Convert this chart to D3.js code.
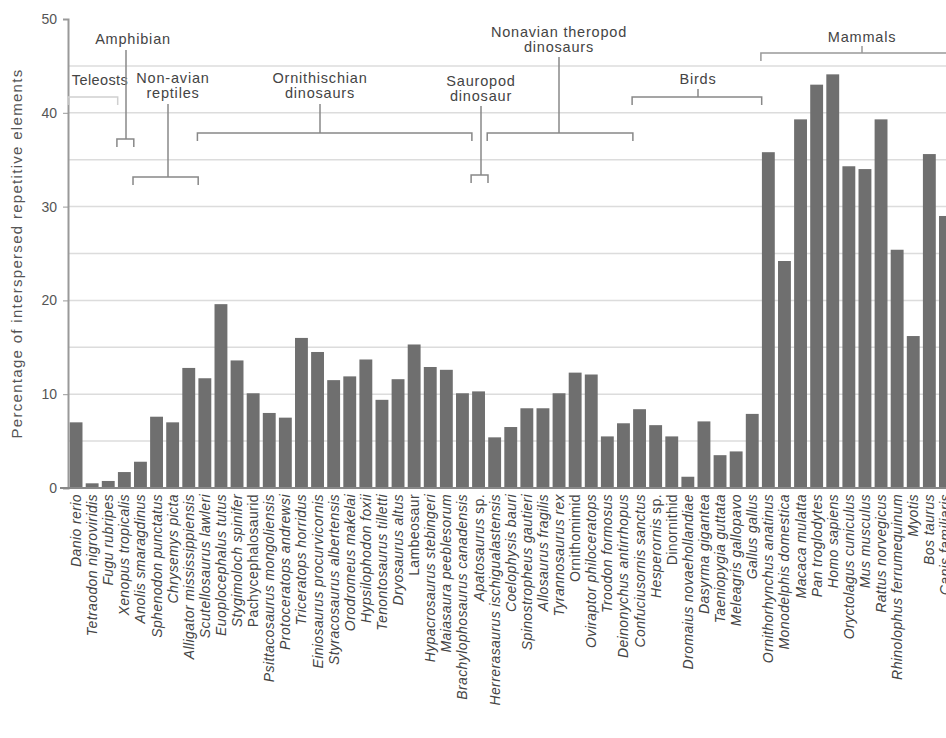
<!DOCTYPE html>
<html>
<head>
<meta charset="utf-8">
<script src="https://d3js.org/d3.v7.min.js"></script>
<style>
  body { margin: 0; background: #fff; }
  svg text { font-family: 'Liberation Sans', Arial, sans-serif; }
</style>
</head>
<body>
<svg id="chart" width="946" height="738"></svg>
<script>
// species along the x axis, left to right
var species = [
  "Danio rerio", "Tetraodon nigroviridis", "Fugu rubripes", "Xenopus tropicalis",
  "Anolis smaragdinus", "Sphenodon punctatus", "Chrysemys picta", "Alligator mississippiensis",
  "Scutellosaurus lawleri", "Euoplocephalus tutus", "Stygimoloch spinifer", "Pachycephalosaurid",
  "Psittacosaurus mongoliensis", "Protoceratops andrewsi", "Triceratops horridus",
  "Einiosaurus procurvicornis", "Styracosaurus albertensis", "Orodromeus makelai",
  "Hypsilophodon foxii", "Tenontosaurus tilletti", "Dryosaurus altus", "Lambeosaur",
  "Hypacrosaurus stebingeri", "Maiasaura peeblesorum", "Brachylophosaurus canadensis",
  "Apatosaurus sp.", "Herrerasaurus ischigualastensis", "Coelophysis bauri",
  "Spinostropheus gautieri", "Allosaurus fragilis", "Tyrannosaurus rex", "Ornithomimid",
  "Oviraptor philoceratops", "Troodon formosus", "Deinonychus antirrhopus",
  "Confuciusornis sanctus", "Hesperornis sp.", "Dinornithid", "Dromaius novaehollandiae",
  "Dasyrma gigantea", "Taeniopygia guttata", "Meleagris gallopavo", "Gallus gallus",
  "Ornithorhynchus anatinus", "Monodelphis domestica", "Macaca mulatta", "Pan troglodytes",
  "Homo sapiens", "Oryctolagus cuniculus", "Mus musculus", "Rattus norvegicus",
  "Rhinolophus ferrumequinum", "Myotis", "Bos taurus", "Canis familiaris"
];

// percentage of interspersed repetitive elements
var repeatPct = [
  7.0, 0.5, 0.75, 1.7, 2.8, 7.6, 7.0, 12.8, 11.7, 19.6, 13.6, 10.1, 8.0, 7.5, 16.0,
  14.5, 11.5, 11.9, 13.7, 9.4, 11.6, 15.3, 12.9, 12.6, 10.1, 10.3, 5.4, 6.5, 8.5, 8.5,
  10.1, 12.3, 12.1, 5.5, 6.9, 8.4, 6.7, 5.5, 1.2, 7.1, 3.5, 3.9, 7.9, 35.8, 24.2,
  39.3, 43.0, 44.1, 34.3, 34.0, 39.3, 25.4, 16.2, 35.6, 29.0
];

// names that are not set in italics
var plainNames = ["Pachycephalosaurid", "Lambeosaur", "Ornithomimid", "Dinornithid"];

var yTicks = [0, 10, 20, 30, 40, 50];
var gridValues = [5, 10, 15, 20, 25, 30, 35, 40, 45];

// clade groups: first and last species, label lines
var groupNames = ["Teleosts", "Amphibian", "Non-avian reptiles", "Ornithischian dinosaurs",
  "Sauropod dinosaur", "Nonavian theropod dinosaurs", "Birds", "Mammals"];
var groupFirst = ["Danio rerio", "Xenopus tropicalis", "Anolis smaragdinus", "Scutellosaurus lawleri",
  "Apatosaurus sp.", "Herrerasaurus ischigualastensis", "Confuciusornis sanctus", "Ornithorhynchus anatinus"];
var groupLast = ["Fugu rubripes", "Xenopus tropicalis", "Alligator mississippiensis", "Brachylophosaurus canadensis",
  "Apatosaurus sp.", "Deinonychus antirrhopus", "Gallus gallus", "Canis familiaris"];
var groupLines = [["Teleosts"], ["Amphibian"], ["Non-avian", "reptiles"], ["Ornithischian", "dinosaurs"],
  ["Sauropod", "dinosaur"], ["Nonavian theropod", "dinosaurs"], ["Birds"], ["Mammals"]];

var svg = d3.select('#chart');
var x = d3.scaleBand().domain(species).range([68, 68 + 55 * 16.1]).paddingInner(0.2).paddingOuter(0.1);
var y = d3.scaleLinear().domain([0, 50]).range([488, 19]);

// grid
svg.append('g').selectAll('line').data(gridValues).join('line')
  .attr('x1', 68).attr('x2', 946)
  .attr('y1', function (d) { return y(d); }).attr('y2', function (d) { return y(d); })
  .attr('stroke', '#dcdcdc').attr('stroke-width', 1.5);

// bars
svg.append('g').selectAll('rect').data(species).join('rect')
  .attr('x', function (d) { return x(d); })
  .attr('y', function (d, i) { return y(repeatPct[i]); })
  .attr('width', x.bandwidth())
  .attr('height', function (d, i) { return y(0) - y(repeatPct[i]); })
  .attr('fill', '#6f6f6f');

// y axis
var yAxis = d3.axisLeft(y).tickValues(yTicks).tickSize(5).tickPadding(6);
var gy = svg.append('g').attr('transform', 'translate(68,0)').call(yAxis);
gy.select('.domain').attr('stroke', '#999').attr('stroke-width', 2);
gy.selectAll('.tick line').attr('stroke', '#999');
gy.selectAll('.tick text').attr('fill', '#555').style('font-size', '14px');

// baseline
svg.append('line').attr('x1', 60).attr('x2', 946).attr('y1', y(0)).attr('y2', y(0))
  .attr('stroke', '#888').attr('stroke-width', 2);

svg.append('text')
  .attr('transform', 'translate(22,' + ((y(0) + y(50)) / 2) + ') rotate(-90)')
  .attr('text-anchor', 'middle')
  .attr('fill', '#555')
  .style('font-size', '15px')
  .style('letter-spacing', '1.3px')
  .text('Percentage of interspersed repetitive elements');

// x labels
var xl = svg.append('g').selectAll('text').data(species).join('text')
  .attr('transform', function (d) {
    return 'translate(' + (x(d) + x.bandwidth() / 2 + 5) + ',494) rotate(-90)';
  })
  .attr('text-anchor', 'end')
  .attr('fill', '#444')
  .style('font-size', '14px')
  .style('letter-spacing', '0.4px');
xl.each(function (d) {
  var t = d3.select(this);
  if (plainNames.indexOf(d) >= 0) {
    t.text(d);
  } else if (d.slice(-4) === ' sp.') {
    t.append('tspan').style('font-style', 'italic').text(d.slice(0, -4));
    t.append('tspan').text(' sp.');
  } else {
    t.style('font-style', 'italic').text(d);
  }
});

// group brackets: bracket y, label centre x, stem x, label baseline y, stem top y
var bracketY = [97, 139, 177, 133, 175, 133, 97, 53];
var labelY = [85, 44, 83, 83, 86, 37, 84, 42];
var stemTop = [97, 50, 104, 104, 106, 57, 89, 46];
var labelX = [100, 133, 173, 320, 481, 559, 698, 862];
var stemX = [94, 126, 168, 320, 481, 559, 698, 862];
var bracketColor = ['#d0d0d0', '#888', '#888', '#888', '#888', '#888', '#888', '#999'];

groupNames.forEach(function (g, i) {
  var x0 = i === 0 ? 68 : x(groupFirst[i]) - 1;
  var x1 = x(groupLast[i]) + x.bandwidth() + 3;
  var c = bracketColor[i];
  var b = svg.append('g').attr('fill', 'none').attr('stroke', c).attr('stroke-width', 1.5);
  b.append('path').attr('d', 'M' + x0 + ',' + (bracketY[i] + 8) + 'V' + bracketY[i] +
    'H' + x1 + 'V' + (bracketY[i] + 8));
  b.append('line').attr('x1', stemX[i]).attr('x2', stemX[i])
    .attr('y1', stemTop[i]).attr('y2', bracketY[i]);
  var t = svg.append('text')
    .attr('text-anchor', 'middle')
    .attr('fill', '#444')
    .style('font-size', '14.5px')
    .style('letter-spacing', i === 0 ? '0.4px' : '0.8px');
  groupLines[i].forEach(function (line, k) {
    t.append('tspan').attr('x', labelX[i]).attr('y', labelY[i] + k * 14.5).text(line);
  });
});
</script>
</body>
</html>
